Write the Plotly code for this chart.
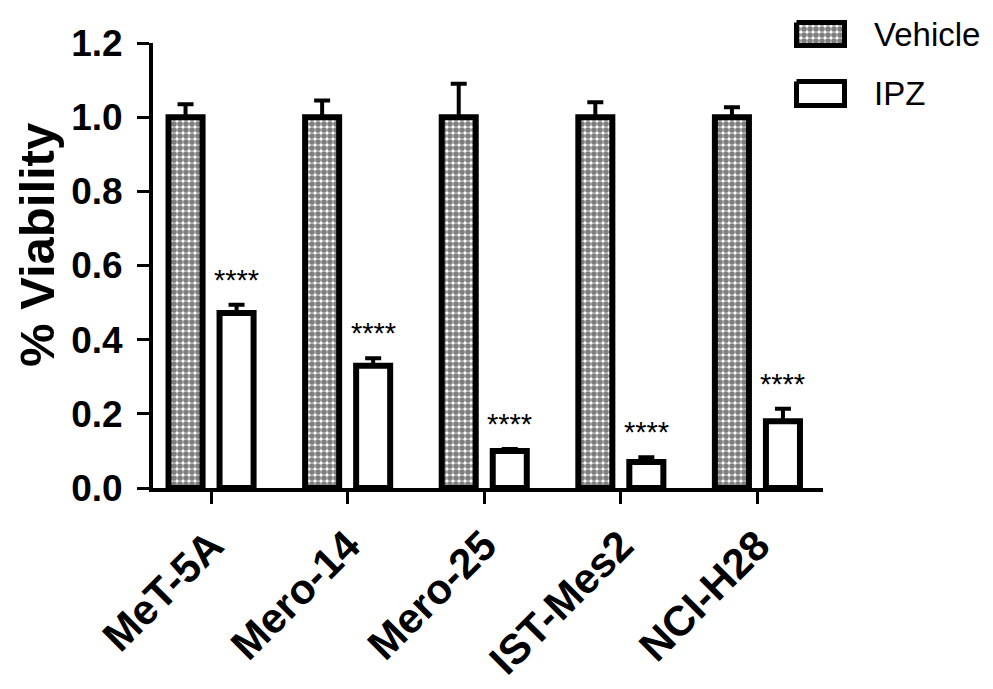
import plotly.graph_objects as go

categories = ["MeT-5A", "Mero-14", "Mero-25", "IST-Mes2", "NCI-H28"]
vehicle_values = [1.0, 1.0, 1.0, 1.0, 1.0]
vehicle_err = [0.035, 0.045, 0.09, 0.04, 0.027]
ipz_values = [0.472, 0.33, 0.10, 0.07, 0.18]
ipz_err = [0.022, 0.02, 0.005, 0.013, 0.034]
sig_labels = ["****", "****", "****", "****", "****"]
y_ticks = [0.0, 0.2, 0.4, 0.6, 0.8, 1.0, 1.2]
series_names = ["Vehicle", "IPZ"]
y_title = "% Viability"

FONT = "Liberation Sans, Arial, sans-serif"
OFF = 8                      # browser default body margin
W, H = 993 - OFF, 689 - OFF
ML = 153 - OFF               # y axis position on screen 153
PLOT_RIGHT = 823 - OFF       # x axis end on screen 823
PLOT_TOP = 43 - OFF          # y = 1.2 on screen 43
PLOT_BOTTOM = 488 - OFF      # y = 0 on screen 488
MB = H - PLOT_BOTTOM

vehicle_pattern = dict(shape=".", fgcolor="black", bgcolor="white", size=6, solidity=0.7)

fig = go.Figure()
fig.add_trace(go.Bar(
    name=series_names[0], x=categories, y=vehicle_values,
    marker=dict(color="white", line=dict(color="black", width=6), pattern=vehicle_pattern),
    error_y=dict(type="data", symmetric=False, array=vehicle_err,
                 arrayminus=[0] * len(vehicle_err), color="black", thickness=4, width=8),
    hoverinfo="skip",
))
fig.add_trace(go.Bar(
    name=series_names[1], x=categories, y=ipz_values,
    marker=dict(color="white", line=dict(color="black", width=6)),
    error_y=dict(type="data", symmetric=False, array=ipz_err,
                 arrayminus=[0] * len(ipz_err), color="black", thickness=4, width=8),
    hoverinfo="skip",
))

for i, cat in enumerate(categories):
    fig.add_annotation(
        x=cat, y=ipz_values[i] + ipz_err[i], xref="x", yref="y",
        text=sig_labels[i], showarrow=False, xshift=25.5, yshift=7, yanchor="bottom",
        font=dict(family=FONT, size=29, color="black"),
    )

# ---- legend (drawn on a pixel-unit overlay axis pair, screen coordinates) ----
legend_rows = [(22.5, 45.5), (81.5, 105.5)]
for k, (y0, y1) in enumerate(legend_rows):
    kw = dict(fillpattern=vehicle_pattern) if k == 0 else dict()
    fig.add_trace(go.Scatter(
        x=[796.5, 844.5, 844.5, 796.5, 796.5], y=[y0, y0, y1, y1, y0],
        xaxis="x2", yaxis="y2", mode="lines", fill="toself",
        fillcolor="white", line=dict(color="black", width=5),
        showlegend=False, hoverinfo="skip", **kw,
    ))
    fig.add_annotation(
        x=872, y=(y0 + y1) / 2, xref="x2", yref="y2", text=series_names[k],
        showarrow=False, xanchor="left", yanchor="middle",
        font=dict(family=FONT, size=33, color="black"),
    )

plot_w = W - ML
plot_h = H - MB

# y axis title as a rotated annotation (screen centre ~ (37, 245))
fig.add_annotation(
    x=(37 - (ML + OFF)) / plot_w, y=(PLOT_BOTTOM + OFF - 245) / plot_h,
    xref="paper", yref="paper", text=y_title, textangle=-90, showarrow=False,
    xanchor="center", yanchor="middle",
    font=dict(family=FONT, size=49, color="black", weight="bold"),
)

fig.update_layout(
    width=W, height=H,
    margin=dict(l=ML, r=0, t=0, b=MB, autoexpand=False),
    paper_bgcolor="white", plot_bgcolor="rgba(0,0,0,0)",
    barmode="group", bargap=0.253, bargroupgap=0.333,
    showlegend=False,
    font=dict(family=FONT, color="black"),
    xaxis=dict(
        domain=[0, (PLOT_RIGHT - ML) / plot_w],
        range=[-0.425, 4.48], showline=True, linecolor="black", linewidth=4,
        ticks="outside", ticklen=12, tickwidth=3, tickcolor="black",
        tickangle=-45, showgrid=False, zeroline=False, automargin=False,
        tickfont=dict(family=FONT, size=42, color="black", weight="bold"),
    ),
    yaxis=dict(
        domain=[0, (plot_h - PLOT_TOP) / plot_h],
        range=[0, 1.2], tickvals=y_ticks, tickformat=".1f",
        showline=True, linecolor="black", linewidth=4,
        ticks="outside", ticklen=12, tickwidth=3, tickcolor="black",
        showgrid=False, zeroline=False, ticklabelstandoff=7, automargin=False,
        tickfont=dict(family=FONT, size=37, color="black", weight="bold"),
    ),
    xaxis2=dict(domain=[0, 1], range=[ML + OFF, W + OFF], anchor="y2",
                visible=False, fixedrange=True),
    yaxis2=dict(domain=[0, 1], range=[plot_h + OFF, OFF], anchor="x2",
                visible=False, fixedrange=True),
)

fig.write_html("out.html")
